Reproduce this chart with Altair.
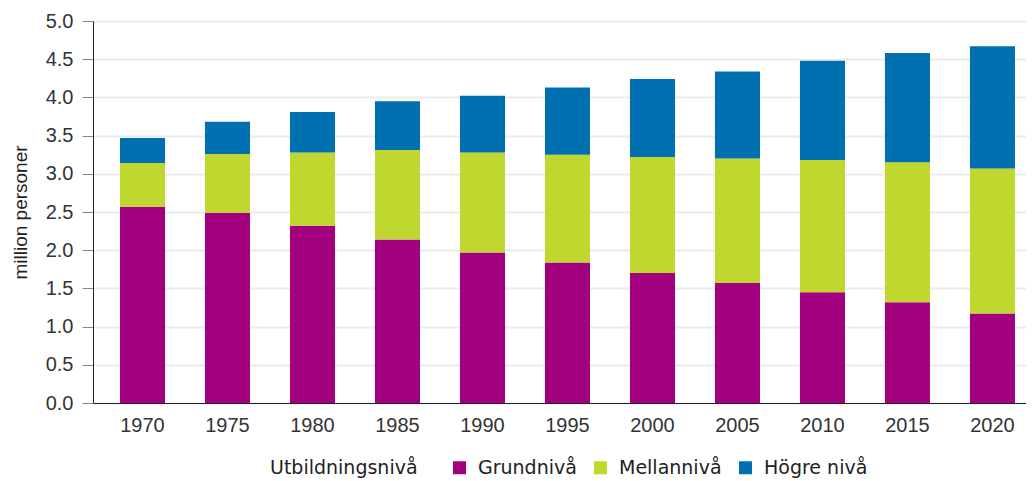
import altair as alt
import pandas as pd

years = ["1970", "1975", "1980", "1985", "1990", "1995", "2000", "2005", "2010", "2015", "2020"]
grund = [2.57, 2.49, 2.32, 2.14, 1.97, 1.84, 1.70, 1.57, 1.45, 1.32, 1.17]
mellan = [0.57, 0.77, 0.96, 1.17, 1.31, 1.41, 1.52, 1.63, 1.73, 1.83, 1.90]
hogre = [0.33, 0.42, 0.53, 0.64, 0.74, 0.88, 1.02, 1.14, 1.30, 1.43, 1.60]
levels = ["Grundnivå", "Mellannivå", "Högre nivå"]
colors = ["#a2007e", "#c0d72f", "#0070b0"]

rows = []
for i, y in enumerate(years):
    for k, (lvl, vals) in enumerate(zip(levels, [grund, mellan, hogre])):
        rows.append({"year": y, "level": lvl, "value": vals[i], "ord": k})
df = pd.DataFrame(rows)

chart = alt.Chart(df).mark_bar().encode(
    x=alt.X("year:O", title=None,
            scale=alt.Scale(paddingInner=0.47, paddingOuter=0.2235, align=0.71),
            axis=alt.Axis(labelAngle=0, ticks=False, grid=False, domainColor="#222222",
                          labelFont="Liberation Sans", labelFontSize=20, labelColor="#333333",
                          labelPadding=12)),
    y=alt.Y("value:Q", title="million personer", stack="zero",
            scale=alt.Scale(domain=[0, 5], nice=False),
            axis=alt.Axis(values=[0, 0.5, 1, 1.5, 2, 2.5, 3, 3.5, 4, 4.5, 5], format=".1f",
                          domainColor="#222222", tickColor="#888888", tickSize=11,
                          labelFont="Liberation Sans", labelFontSize=20, labelColor="#333333",
                          labelPadding=9, titleFont="Liberation Sans", titleFontSize=19,
                          titleFontWeight="normal", titleColor="#222222", titlePadding=15,
                          gridColor="#ebebeb", gridWidth=2)),
    color=alt.Color("level:N", scale=alt.Scale(domain=levels, range=colors),
                    legend=alt.Legend(title="Utbildningsnivå", orient="none", direction="horizontal",
                                      legendX=177, legendY=437, titleOrient="left",
                                      titleFont="DejaVu Sans", titleFontSize=19,
                                      titleFontWeight="normal", titleColor="#222222",
                                      titlePadding=32, titleBaseline="middle",
                                      labelFont="DejaVu Sans", labelFontSize=19,
                                      labelColor="#222222", labelOffset=9,
                                      symbolType="square", symbolSize=169, symbolStrokeWidth=0,
                                      columnPadding=14, labelLimit=300)),
    order=alt.Order("ord:Q", sort="ascending"),
).properties(
    width=933, height=382,
    autosize=alt.AutoSizeParams(type="none"),
    padding={"left": 85, "top": 13, "right": 0, "bottom": 77},
).configure_view(stroke=None)

chart.save("out.html", embed_options={"renderer": "svg", "actions": False})
